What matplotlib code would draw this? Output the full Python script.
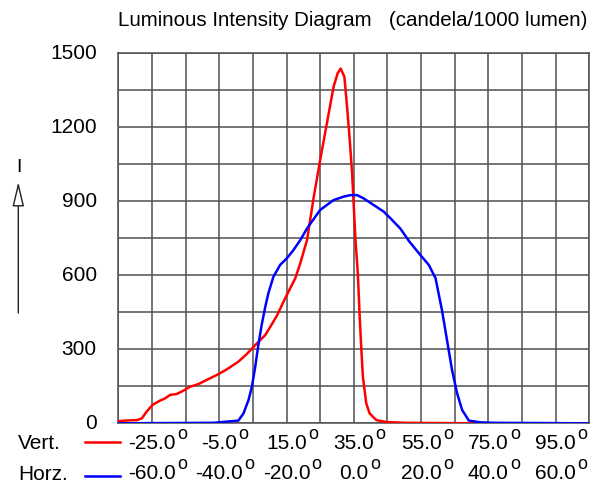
import matplotlib
matplotlib.use("Agg")
import matplotlib.pyplot as plt
import matplotlib.transforms as mtrans
import numpy as np

plt.rcParams['font.family'] = ['Liberation Sans', 'DejaVu Sans']

# Vertical plane (red)
vert_angle = [-35, -31.5, -29.5, -28, -26.6, -24.8, -22.6, -21.1, -19.6, -17.6,
              -15.7, -13.7, -11.2, -8.7, -5.7, -2.7, 0.7, 3.2, 5.7, 8.7,
              12.1, 14.6, 17.6, 19.1, 21.1, 23.1, 25.0, 27.0, 29.0, 30.2,
              31.1, 32.2, 33.0, 33.8, 34.5, 35.0, 35.5, 36.2, 36.7, 37.2,
              37.7, 38.7, 39.7, 41.7, 44.7, 50.6, 60, 75, 105]
vert_int = [9, 12, 13, 20, 47, 75, 92, 101, 115, 119,
            132, 148, 159, 176, 196, 219, 250, 281, 317, 358,
            435, 507, 588, 649, 743, 918, 1067, 1216, 1365, 1419,
            1438, 1405, 1283, 1148, 1013, 878, 743, 608, 446, 311,
            189, 81, 40, 13, 5, 2, 1, 0, 0]

# Horizontal plane (blue)
horz_angle = [-70, -41.7, -34.3, -32.8, -31.3, -30.3, -29.3, -28.3, -27.3, -26.3,
              -25.4, -23.9, -21.9, -19.9, -17.9, -15.9, -13.9, -10.0, -6.0, -3.0,
              -1.0, 1.0, 2.9, 5.9, 8.9, 10.9, 13.8, 16.5, 19.8, 22.3,
              24.3, 26.2, 27.7, 29.2, 30.7, 32.2, 34.2, 37.6, 41.6, 70]
horz_int = [0, 2, 11, 40, 94, 148, 229, 324, 405, 473,
            527, 594, 642, 669, 703, 743, 790, 865, 905, 919,
            925, 925, 912, 885, 858, 831, 790, 737, 682, 642,
            588, 459, 338, 216, 122, 54, 11, 4, 2, 0]

vert_ticks = [-25.0, -5.0, 15.0, 35.0, 55.0, 75.0, 95.0]
horz_ticks = [-60.0, -40.0, -20.0, 0.0, 20.0, 40.0, 60.0]
y_ticks = [0, 300, 600, 900, 1200, 1500]

W, H = 611, 491
fig = plt.figure(figsize=(W / 100, H / 100), dpi=100)
L, R, T, B = 118.3, 589.3, 53.3, 423.3
ax = fig.add_axes([L / W, 1 - B / H, (R - L) / W, (B - T) / H])

grid_c = '#505050'
ax.set_xlim(-35, 105)
ax.set_ylim(0, 1500)
ax.set_xticks(np.arange(-35, 106, 10))
ax.set_yticks(np.arange(0, 1501, 150))
ax.grid(True, color=grid_c, lw=1.1)
ax.tick_params(length=0, labelbottom=False, labelleft=False)
for s in ax.spines.values():
    s.set_color(grid_c)
    s.set_linewidth(1.1)

ax.plot(vert_angle, vert_int, color='#ff0000', lw=1.8, zorder=3)

ax2 = ax.twiny()
ax2.set_xlim(-70, 70)
ax2.set_ylim(0, 1500)
ax2.axis('off')
ax2.plot(horz_angle, horz_int, color='#0000ff', lw=1.8, zorder=4)

fs = 15
# y labels
for v in y_ticks:
    ax.text(-21.5 / (R - L), v, f"{v}", transform=ax.get_yaxis_transform(),
            ha='right', va='center', fontsize=fs)

# x label rows
tr1 = mtrans.blended_transform_factory(ax.transData, fig.transFigure)
tr2 = mtrans.blended_transform_factory(ax2.transData, fig.transFigure)
y_row1 = 1 - 443.5 / H
y_row2 = 1 - 473.5 / H
for v in vert_ticks:
    t = ax.text(v, y_row1, f"{v:.1f}", transform=tr1, ha='center', va='center',
                fontsize=fs, clip_on=False)
    ax.annotate('o', xy=(1, 0.55), xycoords=t, xytext=(1.0, 0), textcoords='offset points',
                ha='left', va='bottom', fontsize=13, annotation_clip=False)
for h in horz_ticks:
    t = ax2.text(h, y_row2, f"{h:.1f}", transform=tr2, ha='center', va='center',
                 fontsize=fs, clip_on=False)
    ax2.annotate('o', xy=(1, 0.55), xycoords=t, xytext=(1.0, 0), textcoords='offset points',
                 ha='left', va='bottom', fontsize=13, annotation_clip=False)

fig.text(18 / W, y_row1, "Vert.", ha='left', va='center', fontsize=fs)
fig.text(18 / W, y_row2 - 1 / H, "Horz.", ha='left', va='center', fontsize=fs)
fig.add_artist(plt.Line2D([85 / W, 120 / W], [1 - 441.5 / H] * 2, color='#ff0000', lw=1.8))
fig.add_artist(plt.Line2D([85 / W, 120 / W], [1 - 476 / H] * 2, color='#0000ff', lw=1.8))

# title
fig.text(118 / W, 1 - 26 / H, "Luminous Intensity Diagram   (candela/1000 lumen)",
         ha='left', va='baseline', fontsize=14.8)

# I arrow
fig.text(18.5 / W, 1 - 168 / H, "I", ha='center', va='center', fontsize=14)
ax.annotate('', xy=(18.3 / W, 1 - 182 / H), xycoords='figure fraction',
            xytext=(18.3 / W, 1 - 313 / H), textcoords='figure fraction',
            arrowprops=dict(arrowstyle='-|>,head_length=0.75,head_width=0.18',
                            mutation_scale=20, fc='white', ec='#222222', lw=1,
                            shrinkA=0, shrinkB=0), annotation_clip=False)

fig.savefig('out.png', dpi=100)
